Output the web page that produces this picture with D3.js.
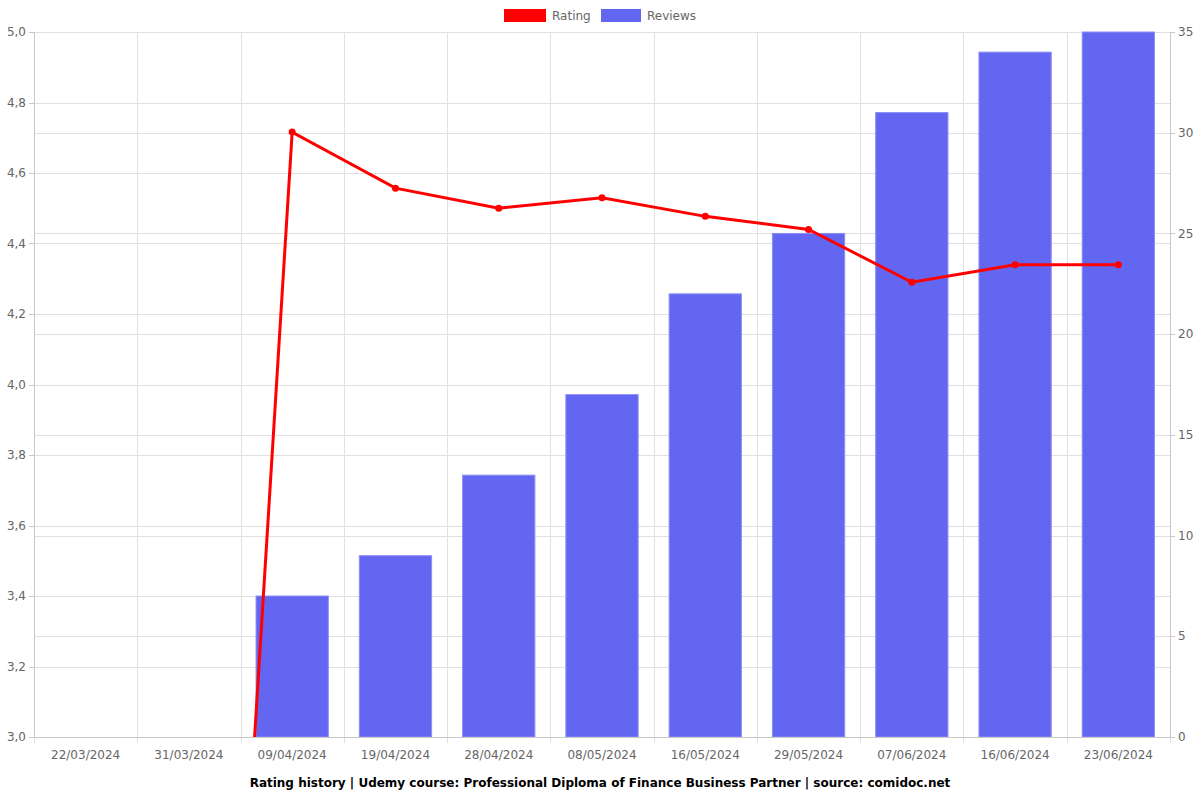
<!DOCTYPE html>
<html><head><meta charset="utf-8">
<script src="https://cdn.jsdelivr.net/npm/d3@7"></script>
<style>body{margin:0;background:#fff;} svg{display:block;font-family:"DejaVu Sans",sans-serif;}</style>
</head><body>
<svg id="c" width="1200" height="800"></svg>
<script>
const categories = ["22/03/2024","31/03/2024","09/04/2024","19/04/2024","28/04/2024","08/05/2024","16/05/2024","29/05/2024","07/06/2024","16/06/2024","23/06/2024"];
const ratings = [0,0,4.716,4.557,4.50,4.53,4.477,4.44,4.29,4.34,4.34];
const reviews = [0,0,7,9,13,17,22,25,31,34,35];
const leftTicks = [3.0,3.2,3.4,3.6,3.8,4.0,4.2,4.4,4.6,4.8,5.0];
const rightTicks = [0,5,10,15,20,25,30,35];
const title = "Rating history | Udemy course: Professional Diploma of Finance Business Partner | source: comidoc.net";

const svg = d3.select("#c");
const m = {l:34, r:1170, t:32, b:737};
const x = d3.scaleBand().domain(categories).range([m.l, m.r]);
const yL = d3.scaleLinear().domain([3,5]).range([m.b, m.t]);
const yR = d3.scaleLinear().domain([0,35]).range([m.b, m.t]);
const fmt = d => d.toFixed(1).replace(".", ",");

// grid
const g = svg.append("g");
g.selectAll(".gl").data(leftTicks).join("line")
  .attr("x1", m.l).attr("x2", m.r).attr("y1", d=>Math.round(yL(d))+0.5).attr("y2", d=>Math.round(yL(d))+0.5)
  .attr("stroke", "#e0e0e0");
g.selectAll(".gr").data(rightTicks).join("line")
  .attr("x1", m.l).attr("x2", m.r).attr("y1", d=>Math.round(yR(d))+0.5).attr("y2", d=>Math.round(yR(d))+0.5)
  .attr("stroke", "#e0e0e0");
const bounds = categories.map(c => x(c)).concat([m.r]);
g.selectAll(".gv").data(bounds).join("line")
  .attr("x1", d=>Math.round(d)+0.5).attr("x2", d=>Math.round(d)+0.5).attr("y1", m.t).attr("y2", m.b+6)
  .attr("stroke", "#e0e0e0");

// bars
const bw = x.bandwidth()*0.7;
svg.append("g").selectAll("rect").data(categories.map((c,i)=>({c, v:reviews[i]})).filter(d=>d.v>0)).join("rect")
  .attr("x", d=>x(d.c)+(x.bandwidth()-bw)/2).attr("width", bw)
  .attr("y", d=>yR(d.v)).attr("height", d=>m.b-yR(d.v))
  .attr("fill", "rgb(99,102,241)").attr("stroke", "rgba(140,143,245,1)").attr("stroke-width", 1);

// axes
const ax = svg.append("g").attr("fill", "#666").attr("font-size", 12);
ax.append("line").attr("x1", m.l+0.5).attr("x2", m.l+0.5).attr("y1", m.t).attr("y2", m.b).attr("stroke","#c8c8c8");
ax.append("line").attr("x1", m.r+0.5).attr("x2", m.r+0.5).attr("y1", m.t).attr("y2", m.b).attr("stroke","#c8c8c8");
ax.append("line").attr("x1", m.l).attr("x2", m.r).attr("y1", m.b+0.5).attr("y2", m.b+0.5).attr("stroke","#c8c8c8");
ax.selectAll(".tl").data(leftTicks).join("line").attr("x1", m.l-5).attr("x2", m.l)
  .attr("y1", d=>Math.round(yL(d))+0.5).attr("y2", d=>Math.round(yL(d))+0.5).attr("stroke","#c8c8c8");
ax.selectAll(".ll").data(leftTicks).join("text").attr("x", m.l-8).attr("y", d=>yL(d)).attr("dy","0.35em")
  .attr("text-anchor","end").text(fmt);
ax.selectAll(".tr").data(rightTicks).join("line").attr("x1", m.r).attr("x2", m.r+5)
  .attr("y1", d=>Math.round(yR(d))+0.5).attr("y2", d=>Math.round(yR(d))+0.5).attr("stroke","#c8c8c8");
ax.selectAll(".rl").data(rightTicks).join("text").attr("x", m.r+8).attr("y", d=>yR(d)).attr("dy","0.35em")
  .attr("text-anchor","start").text(d=>d);
ax.selectAll(".xl").data(categories).join("text").attr("x", d=>x(d)+x.bandwidth()/2).attr("y", m.b+22)
  .attr("text-anchor","middle").text(d=>d);

// line (clipped)
svg.append("clipPath").attr("id","clip").append("rect").attr("x", m.l).attr("y", m.t-5).attr("width", m.r-m.l).attr("height", m.b-m.t+5);
const pts = categories.map((c,i)=>({c, v:ratings[i]}));
const lg = svg.append("g").attr("clip-path","url(#clip)");
lg.append("path").datum(pts)
  .attr("d", d3.line().x(d=>x(d.c)+x.bandwidth()/2).y(d=>yL(d.v)))
  .attr("fill","none").attr("stroke","#ff0000").attr("stroke-width",3);
lg.selectAll("circle").data(pts.filter(d=>d.v>0)).join("circle")
  .attr("cx", d=>x(d.c)+x.bandwidth()/2).attr("cy", d=>yL(d.v)).attr("r",3.5).attr("fill","#ff0000");

// legend
const leg = svg.append("g").attr("font-size",12).attr("fill","#666");
leg.append("rect").attr("x",504).attr("y",9).attr("width",42).attr("height",13).attr("fill","#ff0000");
leg.append("text").attr("x",552).attr("y",16).attr("dy","0.35em").text("Rating");
leg.append("rect").attr("x",601).attr("y",9).attr("width",40).attr("height",13).attr("fill","rgb(99,102,241)");
leg.append("text").attr("x",647).attr("y",16).attr("dy","0.35em").text("Reviews");

svg.append("text").attr("x",600).attr("y",783).attr("dy","0.35em").attr("text-anchor","middle")
  .attr("font-size",12).attr("font-weight","bold").attr("fill","#000").text(title);
</script>
</body></html>
